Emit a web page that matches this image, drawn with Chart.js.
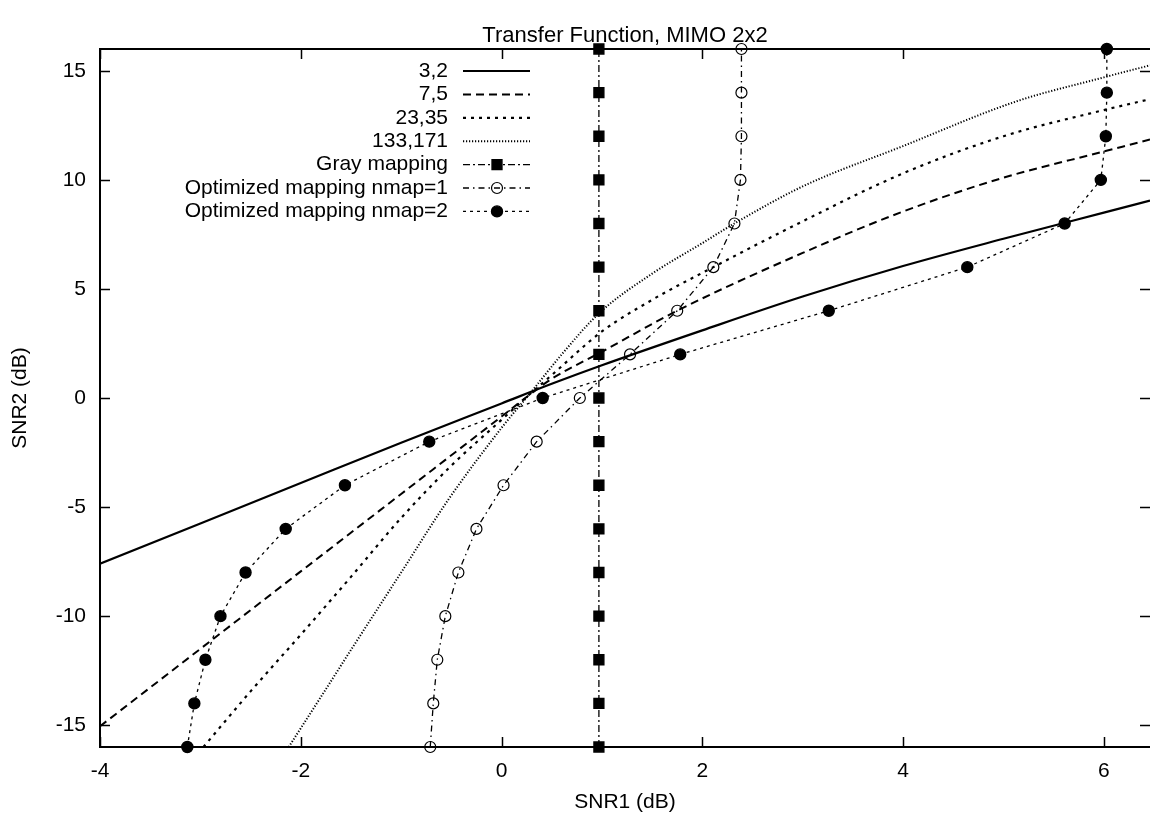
<!DOCTYPE html>
<html>
<head>
<meta charset="utf-8">
<title>Transfer Function, MIMO 2x2</title>
<script src="https://cdn.jsdelivr.net/npm/chart.js@4.4.1/dist/chart.umd.min.js"></script>
<style>
html, body { margin: 0; padding: 0; background: #fff; }
#contenitore { width: 1150px; height: 822px; position: relative; }
</style>
</head>
<body>
<div id="contenitore"><canvas id="grafico"></canvas></div>
<script>
var tickX = [-4, -2, 0, 2, 4, 6];
var tickY = [-15, -10, -5, 0, 5, 10, 15];

// curve dei codici convoluzionali
var cod32X = [-4, -3, -2, -1, 0, 0.5, 1, 2, 3, 4, 5, 6, 6.46];
var cod32Y = [-7.6, -5.75, -3.9, -2.05, -0.25, 0.65, 1.5, 3.1, 4.65, 6.05, 7.3, 8.5, 9.05];

var cod75X = [-4, -3, -2, -1, 0, 0.3, 0.5, 1, 1.75, 3, 4, 5, 6, 6.46];
var cod75Y = [-15.05, -11.5, -7.95, -4.4, -0.85, 0.22, 0.88, 2.12, 4.0, 6.65, 8.55, 10.1, 11.3, 11.85];

var cod2335X = [-2.97, -2.5, -2, -1.5, -1, -0.5, 0, 0.3, 0.5, 1, 1.5, 2.11, 3, 4, 5, 6, 6.46];
var cod2335Y = [-16, -13.45, -10.85, -8.2, -5.5, -3.1, -1.0, 0.25, 1.05, 3.05, 4.5, 6.0, 8.1, 10.3, 12.0, 13.2, 13.7];

var cod133X = [-2.12, -1.75, -1.5, -1, -0.53, 0, 0.3, 0.6, 0.975, 1.5, 2, 2.32, 3, 4, 5.13, 6, 6.46];
var cod133Y = [-16, -13.35, -11.55, -8.0, -4.66, -1.37, 0.3, 2.0, 3.9, 5.7, 7.1, 8.0, 9.7, 11.55, 13.6, 14.7, 15.25];

// mappature: SNR2 fisso, SNR1 letto
var livelliSNR2 = [-16, -14, -12, -10, -8, -6, -4, -2, 0, 2, 4, 6, 8, 10, 12, 14, 16];
var grayX = [0.97, 0.97, 0.97, 0.97, 0.97, 0.97, 0.97, 0.97, 0.97, 0.97, 0.97, 0.97, 0.97, 0.97, 0.97, 0.97, 0.97];
var nmap1X = [-0.71, -0.68, -0.64, -0.56, -0.43, -0.25, 0.02, 0.35, 0.78, 1.28, 1.75, 2.11, 2.32, 2.38, 2.39, 2.39, 2.39];
var nmap2X = [-3.13, -3.06, -2.95, -2.8, -2.55, -2.15, -1.56, -0.72, 0.41, 1.78, 3.26, 4.64, 5.61, 5.97, 6.02, 6.03, 6.03];

var FONT = "'Liberation Sans', Arial, Helvetica, sans-serif";

function curva(etichetta, xs, ys, spessore, tratteggio)
{
  return {
    label: etichetta,
    data: xs.map(function(x, i) { return {x: x, y: ys[i]}; }),
    showLine: true,
    borderColor: '#000',
    borderWidth: spessore,
    borderDash: tratteggio,
    pointRadius: 0,
    pointHoverRadius: 0,
    cubicInterpolationMode: 'monotone',
    fill: false
  };
}

function mappatura(etichetta, xs, simbolo, raggio, riempimento, bordo, tratteggio)
{
  return {
    label: etichetta,
    data: xs.map(function(x, i) { return {x: x, y: livelliSNR2[i]}; }),
    showLine: true,
    borderColor: '#000',
    borderWidth: 1.3,
    borderDash: tratteggio,
    pointStyle: simbolo,
    pointRadius: raggio,
    pointHoverRadius: raggio,
    pointBackgroundColor: riempimento,
    pointBorderColor: '#000',
    pointBorderWidth: bordo,
    tension: 0,
    clip: false,
    fill: false
  };
}

// cornice, tacche interne, titolo e legenda alla gnuplot
var cornice = {
  id: 'cornice',
  afterDraw: function(chart)
  {
    var ctx = chart.ctx;
    var a = chart.chartArea;
    var sx = chart.scales.x, sy = chart.scales.y;
    ctx.save();
    ctx.strokeStyle = '#000';
    ctx.lineWidth = 2;
    ctx.setLineDash([]);
    ctx.beginPath();
    ctx.moveTo(a.right, a.top);
    ctx.lineTo(a.left, a.top);
    ctx.lineTo(a.left, a.bottom);
    ctx.lineTo(a.right, a.bottom);
    ctx.stroke();

    ctx.lineWidth = 1.5;
    ctx.beginPath();
    tickX.forEach(function(v) {
      var px = Math.round(sx.getPixelForValue(v)) + 0.5;
      ctx.moveTo(px, a.bottom); ctx.lineTo(px, a.bottom - 10);
      ctx.moveTo(px, a.top); ctx.lineTo(px, a.top + 10);
    });
    tickY.forEach(function(v) {
      var py = Math.round(sy.getPixelForValue(v)) + 0.5;
      ctx.moveTo(a.left, py); ctx.lineTo(a.left + 10, py);
      ctx.moveTo(a.right, py); ctx.lineTo(a.right - 10, py);
    });
    ctx.stroke();

    ctx.fillStyle = '#000';
    ctx.font = '22px ' + FONT;
    ctx.textAlign = 'center';
    ctx.textBaseline = 'middle';
    ctx.fillText('Transfer Function, MIMO 2x2', (a.left + a.right) / 2, 36);

    // legenda
    ctx.font = '21px ' + FONT;
    var xTesto = 448, xInizio = 463, xFine = 530, xSimbolo = 497;
    chart.data.datasets.forEach(function(ds, i) {
      var y = 71 + i * 23.4;
      ctx.textAlign = 'right';
      ctx.fillText(ds.label, xTesto, y);
      ctx.lineWidth = ds.borderWidth;
      ctx.setLineDash(ds.borderDash || []);
      ctx.beginPath();
      ctx.moveTo(xInizio, y);
      ctx.lineTo(xFine, y);
      ctx.stroke();
      ctx.setLineDash([]);
      if (ds.pointRadius > 0) {
        ctx.lineWidth = ds.pointBorderWidth;
        ctx.beginPath();
        if (ds.pointStyle === 'rect') {
          var s = ds.pointRadius * Math.SQRT1_2;
          ctx.rect(xSimbolo - s, y - s, 2 * s, 2 * s);
        } else {
          ctx.arc(xSimbolo, y, ds.pointRadius, 0, Math.PI * 2);
        }
        ctx.fillStyle = ds.pointBackgroundColor;
        ctx.fill();
        ctx.stroke();
        ctx.fillStyle = '#000';
      }
    });
    ctx.restore();
  }
};

new Chart(document.getElementById('grafico'), {
  type: 'scatter',
  data: {
    datasets: [
      curva('3,2', cod32X, cod32Y, 2.2, []),
      curva('7,5', cod75X, cod75Y, 2, [8, 5]),
      curva('23,35', cod2335X, cod2335Y, 2.2, [3, 5]),
      curva('133,171', cod133X, cod133Y, 2, [1.2, 1.8]),
      mappatura('Gray mapping', grayX, 'rect', 7, '#000', 1.4, [7, 3, 2, 3]),
      mappatura('Optimized mapping nmap=1', nmap1X, 'circle', 5.5, 'rgba(0,0,0,0)', 1.2, [6, 4, 1.5, 4]),
      mappatura('Optimized mapping nmap=2', nmap2X, 'circle', 5.5, '#000', 1.4, [3, 4])
    ]
  },
  options: {
    responsive: true,
    maintainAspectRatio: false,
    animation: false,
    layout: { autoPadding: false, padding: { top: 49, right: 0, left: 0, bottom: 0 } },
    plugins: {
      legend: { display: false },
      tooltip: { enabled: false },
      title: { display: false }
    },
    scales: {
      x: {
        type: 'linear',
        min: -4,
        max: 6.46,
        afterFit: function(s) { s.height = 75; s.paddingLeft = 0; s.paddingRight = 0; },
        afterBuildTicks: function(s) { s.ticks = tickX.map(function(v) { return {value: v}; }); },
        grid: { drawOnChartArea: false, drawTicks: false },
        border: { display: false },
        ticks: { color: '#000', font: { family: FONT, size: 21 }, padding: 12, maxRotation: 0 },
        title: { display: true, text: 'SNR1 (dB)', color: '#000', font: { family: FONT, size: 21 }, padding: { top: 0, bottom: 7 } }
      },
      y: {
        type: 'linear',
        min: -16,
        max: 16,
        afterFit: function(s) { s.width = 100; s.paddingTop = 0; s.paddingBottom = 0; },
        afterBuildTicks: function(s) { s.ticks = tickY.map(function(v) { return {value: v}; }); },
        grid: { drawOnChartArea: false, drawTicks: false },
        border: { display: false },
        ticks: { color: '#000', font: { family: FONT, size: 21 }, padding: 14 },
        title: { display: true, text: 'SNR2 (dB)', color: '#000', font: { family: FONT, size: 21 }, padding: { top: 8, bottom: 0 } }
      }
    }
  },
  plugins: [cornice]
});
</script>
</body>
</html>
